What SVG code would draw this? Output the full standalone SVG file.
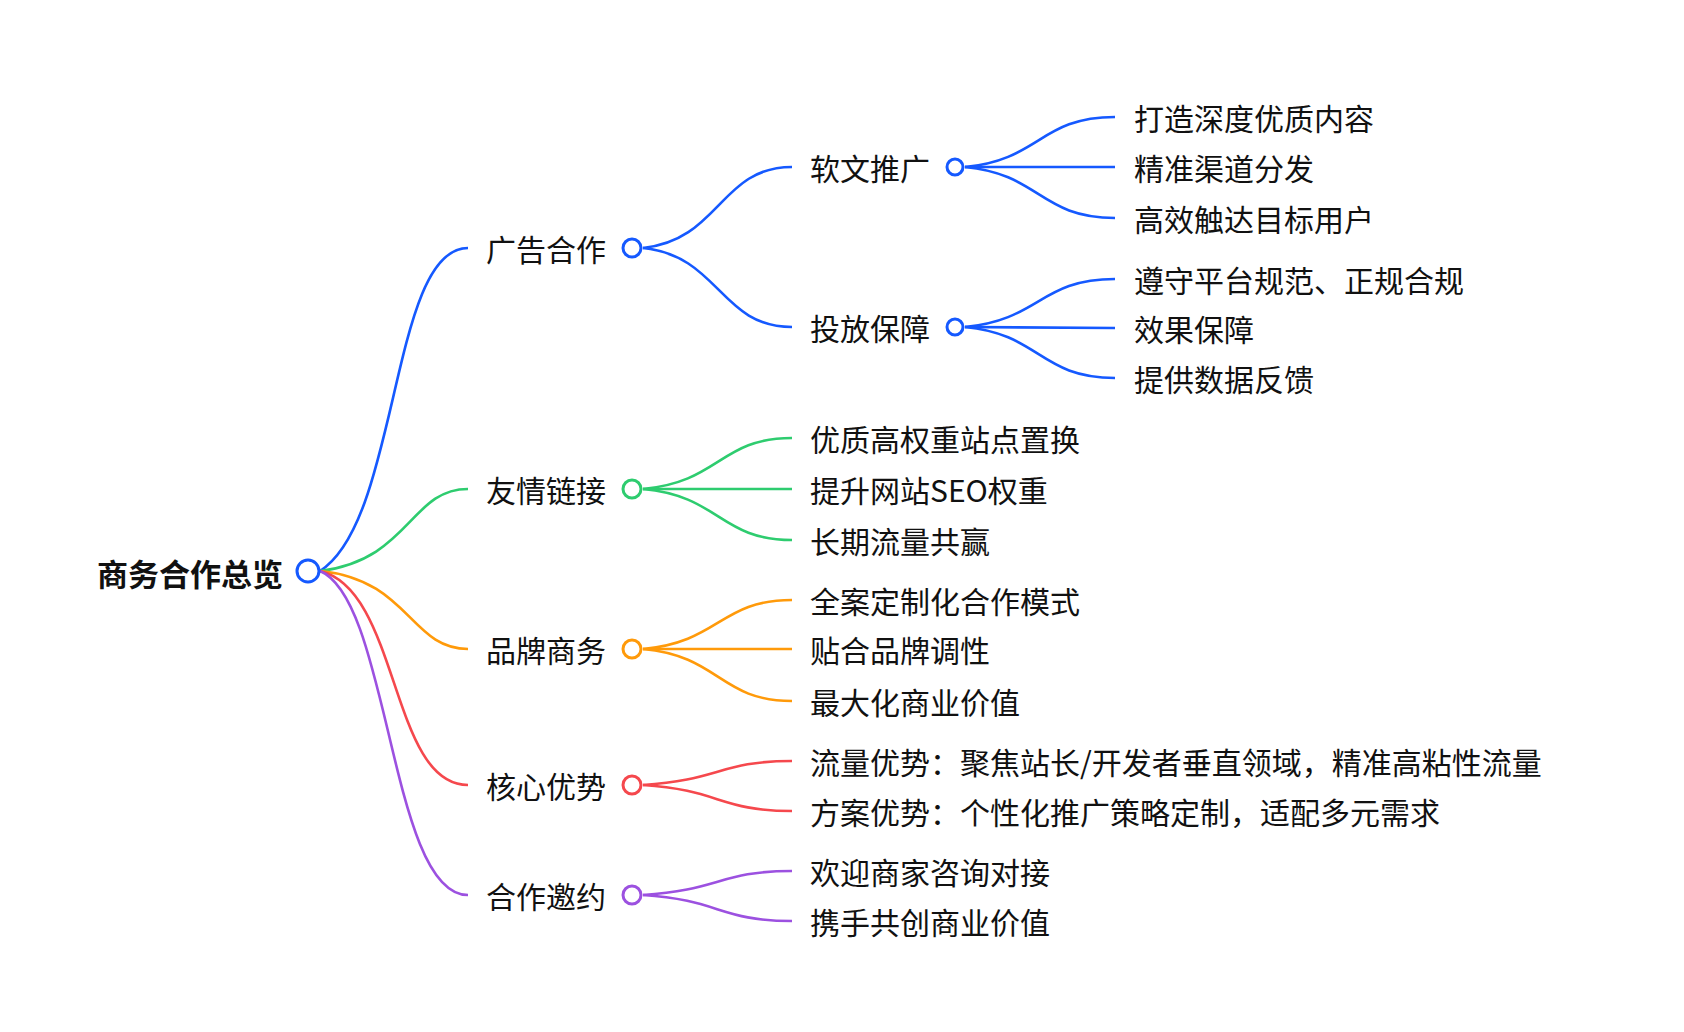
<svg xmlns="http://www.w3.org/2000/svg" width="1684" height="1032" viewBox="0 0 1684 1032">
<style>
text{font-family:"Noto Sans CJK SC","Noto Sans",sans-serif;font-size:30px;fill:#111;dominant-baseline:central}
.root{font-size:31px;font-weight:bold}
path{fill:none;stroke-width:2.6}
circle{fill:#fff;stroke-width:3}
.b{stroke:#1559ff}.g{stroke:#2ecc6f}.o{stroke:#ff9a0a}.r{stroke:#f5484d}.p{stroke:#9c51e0}
</style>
<rect width="1684" height="1032" fill="#fff"/>
<g id="connectors">
<path class="b" d="M320 571 C400 520,390 248,468 248"/>
<path class="g" d="M320 571 C410 560,410 489,468 489"/>
<path class="o" d="M320 571 C410 580,410 649,468 649"/>
<path class="r" d="M320 571 C400 590,390 785,468 785"/>
<path class="p" d="M320 571 C390 600,390 895,468 895"/>
<path class="b" d="M643 248 C720 240,720 167,792 167"/>
<path class="b" d="M643 248 C720 256,720 327,792 327"/>
<path class="b" d="M965 167 C1040 160,1040 117,1115 117"/>
<path class="b" d="M965 167 L1115 167"/>
<path class="b" d="M965 167 C1040 174,1040 218,1115 218"/>
<path class="b" d="M965 327 C1040 320,1040 279,1115 279"/>
<path class="b" d="M965 327 L1115 328"/>
<path class="b" d="M965 327 C1040 334,1040 378,1115 378"/>
<path class="g" d="M643 489 C720 482,720 438,792 438"/>
<path class="g" d="M643 489 L792 489"/>
<path class="g" d="M643 489 C720 496,720 540,792 540"/>
<path class="o" d="M643 649 C720 642,720 600,792 600"/>
<path class="o" d="M643 649 L792 649"/>
<path class="o" d="M643 649 C720 656,720 701,792 701"/>
<path class="r" d="M643 785 C720 780,720 761,792 761"/>
<path class="r" d="M643 785 C720 790,720 811,792 811"/>
<path class="p" d="M643 895 C720 890,720 871,792 871"/>
<path class="p" d="M643 895 C720 900,720 921,792 921"/>
</g>
<g id="root"><text class="root" x="97" y="572">商务合作总览</text><circle class="b" cx="308" cy="571" r="11"/></g>
<g id="n1"><text x="486" y="248">广告合作</text><circle class="b" cx="632" cy="248" r="9"/></g>
<g id="n1a"><text x="810" y="167">软文推广</text><circle class="b" cx="955" cy="167" r="8"/></g>
<g id="n1a1"><text x="1134" y="117">打造深度优质内容</text></g>
<g id="n1a2"><text x="1134" y="167">精准渠道分发</text></g>
<g id="n1a3"><text x="1134" y="218">高效触达目标用户</text></g>
<g id="n1b"><text x="810" y="327">投放保障</text><circle class="b" cx="955" cy="327" r="8"/></g>
<g id="n1b1"><text x="1134" y="279">遵守平台规范、正规合规</text></g>
<g id="n1b2"><text x="1134" y="328">效果保障</text></g>
<g id="n1b3"><text x="1134" y="378">提供数据反馈</text></g>
<g id="n2"><text x="486" y="489">友情链接</text><circle class="g" cx="632" cy="489" r="9"/></g>
<g id="n2a"><text x="810" y="438">优质高权重站点置换</text></g>
<g id="n2b"><text x="810" y="489">提升网站SEO权重</text></g>
<g id="n2c"><text x="810" y="540">长期流量共赢</text></g>
<g id="n3"><text x="486" y="649">品牌商务</text><circle class="o" cx="632" cy="649" r="9"/></g>
<g id="n3a"><text x="810" y="600">全案定制化合作模式</text></g>
<g id="n3b"><text x="810" y="649">贴合品牌调性</text></g>
<g id="n3c"><text x="810" y="701">最大化商业价值</text></g>
<g id="n4"><text x="486" y="785">核心优势</text><circle class="r" cx="632" cy="785" r="9"/></g>
<g id="n4a"><text x="810" y="761">流量优势：聚焦站长/开发者垂直领域，精准高粘性流量</text></g>
<g id="n4b"><text x="810" y="811">方案优势：个性化推广策略定制，适配多元需求</text></g>
<g id="n5"><text x="486" y="895">合作邀约</text><circle class="p" cx="632" cy="895" r="9"/></g>
<g id="n5a"><text x="810" y="871">欢迎商家咨询对接</text></g>
<g id="n5b"><text x="810" y="921">携手共创商业价值</text></g>
</svg>
